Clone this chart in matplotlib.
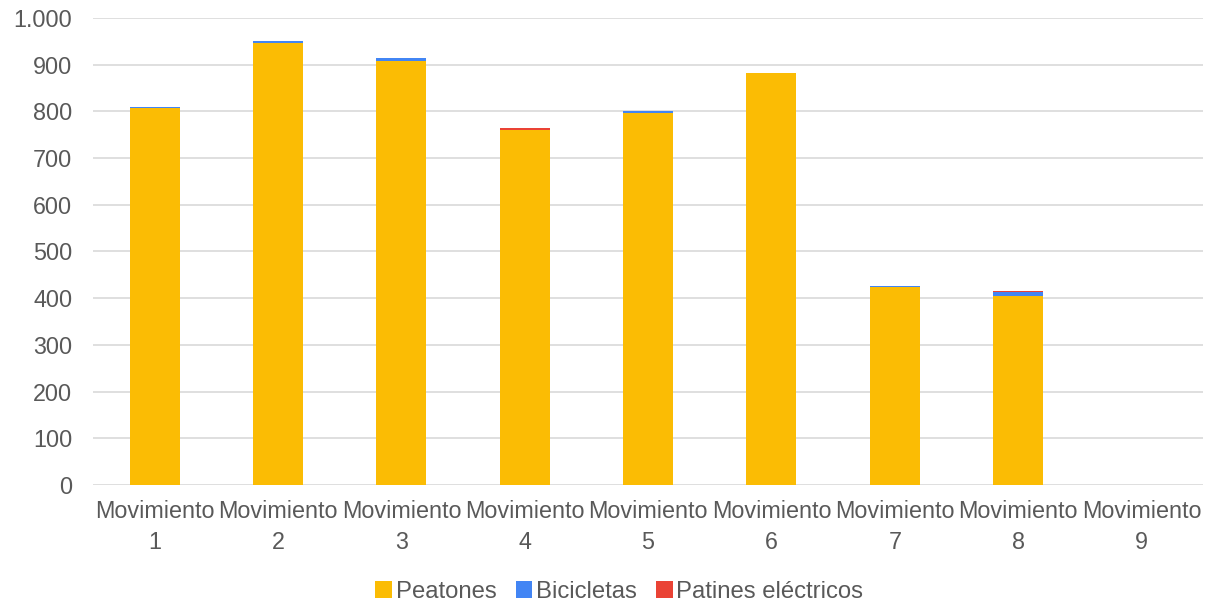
import numpy as np
import matplotlib.pyplot as plt
from matplotlib.ticker import FuncFormatter

# Datos del gráfico
categorias = [f"Movimiento\n{i}" for i in range(1, 10)]
peatones = [807, 947, 908, 760, 797, 882, 425, 405, 0]
bicicletas = [2, 3, 6, 1, 3, 1, 2, 8, 0]
patines = [0, 1, 1, 3, 1, 0, 0, 2, 0]

colores = {"Peatones": "#FBBC04", "Bicicletas": "#4285F4", "Patines eléctricos": "#EA4335"}
gris_texto = "#595959"

plt.rcParams['font.family'] = ['Liberation Sans', 'DejaVu Sans']

fig = plt.figure(figsize=(12.24, 6.05), dpi=100)
ax = fig.add_axes([0.076, 0.1983, 0.907, 0.772])

x = np.arange(len(categorias))
ancho = 0.405
p = np.array(peatones)
b = np.array(bicicletas)
ax.bar(x, peatones, ancho, color=colores["Peatones"], label="Peatones", zorder=3)
ax.bar(x, bicicletas, ancho, bottom=p, color=colores["Bicicletas"], label="Bicicletas", zorder=3)
ax.bar(x, patines, ancho, bottom=p + b, color=colores["Patines eléctricos"],
       label="Patines eléctricos", zorder=3)

ax.set_xlim(-0.5, len(categorias) - 0.5)
ax.set_ylim(0, 1000)
ax.set_yticks(np.arange(0, 1001, 100))
ax.yaxis.set_major_formatter(FuncFormatter(lambda v, _: f"{int(v):,}".replace(",", ".")))
ax.set_xticks(x)
ax.set_xticklabels(categorias, linespacing=1.45)

ax.grid(axis='y', color='#d9d9d9', linewidth=1.2, zorder=0)
for s in ax.spines.values():
    s.set_visible(False)
ax.tick_params(axis='both', length=0, labelsize=16.8, colors=gris_texto)
ax.tick_params(axis='x', pad=11)
ax.tick_params(axis='y', pad=15)

# Leyenda centrada en la figura, debajo del eje
leg = fig.legend(*ax.get_legend_handles_labels(), loc='center',
                 bbox_to_anchor=(0.506, 0.022), ncol=3, frameon=False,
                 fontsize=17.2, handlelength=0.7, handleheight=0.7, handletextpad=0.15,
                 columnspacing=0.8)
for t in leg.get_texts():
    t.set_color(gris_texto)

fig.savefig("out.png", dpi=100)
plt.close()
